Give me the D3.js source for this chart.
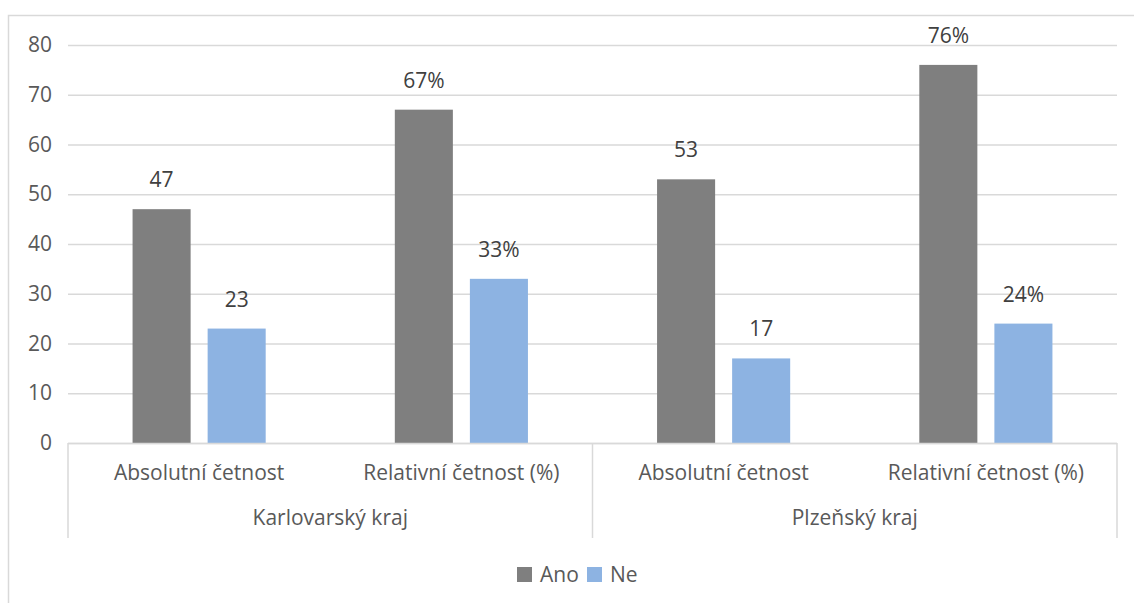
<!DOCTYPE html>
<html><head><meta charset="utf-8">
<script src="https://cdn.jsdelivr.net/npm/d3@7"></script>
<style>body{margin:0;background:#fff}svg{display:block}text{font-family:"Open Sans",sans-serif}</style>
</head><body><svg id="c" width="1134" height="603"></svg>
<script>
const groups = ["Karlovarský kraj", "Plzeňský kraj"];
const subcats = ["Absolutní četnost", "Relativní četnost (%)"];
const series = ["Ano", "Ne"];
const ano = [47, 67, 53, 76];
const ne = [23, 33, 17, 24];
const labelsAno = ["47", "67%", "53", "76%"];
const labelsNe = ["23", "33%", "17", "24%"];
const yTicks = [0, 10, 20, 30, 40, 50, 60, 70, 80];
const colors = ["#7f7f7f", "#8db3e2"];

const svg = d3.select("#c");
const W = 1134, H = 603;
const L = 68, R = 1117, T = 45, B = 443;
const fs = 21, txt = "#595959";

svg.append("rect").attr("x", 8.5).attr("y", 15.5).attr("width", W + 10).attr("height", H + 10)
  .attr("fill", "none").attr("stroke", "#d9d9d9").attr("stroke-width", 1.5);

const y = d3.scaleLinear().domain([0, 80]).range([B, T]);
const keys = [];
groups.forEach(g => subcats.forEach(s => keys.push(g + "|" + s)));
const x = d3.scaleBand().domain(keys).range([L, R]).paddingInner(0).paddingOuter(0);
const xi = d3.scaleBand().domain(series).range([0, x.bandwidth()]).paddingInner(0.2267).paddingOuter(0.86);

// gridlines
const ga = svg.append("g").attr("transform", `translate(${L},0)`)
  .call(d3.axisLeft(y).tickValues(yTicks).tickSize(-(R - L)).tickFormat(""));
ga.select(".domain").remove();
ga.selectAll("line").attr("stroke", "#d9d9d9").attr("stroke-width", 1.5);

// y labels
const yl = svg.append("g").attr("transform", `translate(52,0)`)
  .call(d3.axisLeft(y).tickValues(yTicks).tickSize(0).tickPadding(0));
yl.select(".domain").remove();
yl.selectAll("text").attr("font-size", fs).attr("fill", txt).attr("font-family", "Open Sans");

// bars
const data = keys.map((k, i) => ({k, vals: [ano[i], ne[i]], labs: [labelsAno[i], labelsNe[i]]}));
const cg = svg.append("g").selectAll("g").data(data).join("g")
  .attr("transform", d => `translate(${x(d.k)},0)`);
cg.selectAll("rect").data(d => d.vals.map((v, j) => ({v, s: series[j], j})))
  .join("rect")
  .attr("x", d => xi(d.s)).attr("width", xi.bandwidth())
  .attr("y", d => y(d.v)).attr("height", d => B - y(d.v))
  .attr("fill", d => colors[d.j]);
cg.selectAll("text").data(d => d.vals.map((v, j) => ({v, s: series[j], lab: d.labs[j]})))
  .join("text")
  .attr("x", d => xi(d.s) + xi.bandwidth() / 2).attr("y", d => y(d.v) - 22)
  .attr("text-anchor", "middle").attr("font-size", fs).attr("fill", "#404040")
  .text(d => d.lab);

// category axis
const ax = svg.append("g");
ax.append("line").attr("x1", L).attr("x2", R).attr("y1", B + 0.5).attr("y2", B + 0.5)
  .attr("stroke", "#d9d9d9").attr("stroke-width", 1.5);
const seps = [L, x(keys[2]), R];
ax.selectAll("line.sep").data(seps).join("line").attr("class", "sep")
  .attr("x1", d => d).attr("x2", d => d).attr("y1", B).attr("y2", 538)
  .attr("stroke", "#d9d9d9").attr("stroke-width", 1.5);
ax.selectAll("text.sub").data(keys).join("text").attr("class", "sub")
  .attr("x", d => x(d) + x.bandwidth() / 2).attr("y", 480)
  .attr("text-anchor", "middle").attr("font-size", fs).attr("fill", txt)
  .text(d => d.split("|")[1]);
ax.selectAll("text.grp").data(groups).join("text").attr("class", "grp")
  .attr("x", g => x(g + "|" + subcats[0]) + x.bandwidth()).attr("y", 525)
  .attr("text-anchor", "middle").attr("font-size", fs).attr("fill", txt)
  .text(g => g);

// legend
const lg = svg.append("g");
const lx = [517, 587];
series.forEach((s, i) => {
  lg.append("rect").attr("x", lx[i]).attr("y", 567).attr("width", 15).attr("height", 15).attr("fill", colors[i]);
  lg.append("text").attr("x", lx[i] + 23).attr("y", 582).attr("font-size", fs).attr("fill", txt).text(s);
});
</script></body></html>
